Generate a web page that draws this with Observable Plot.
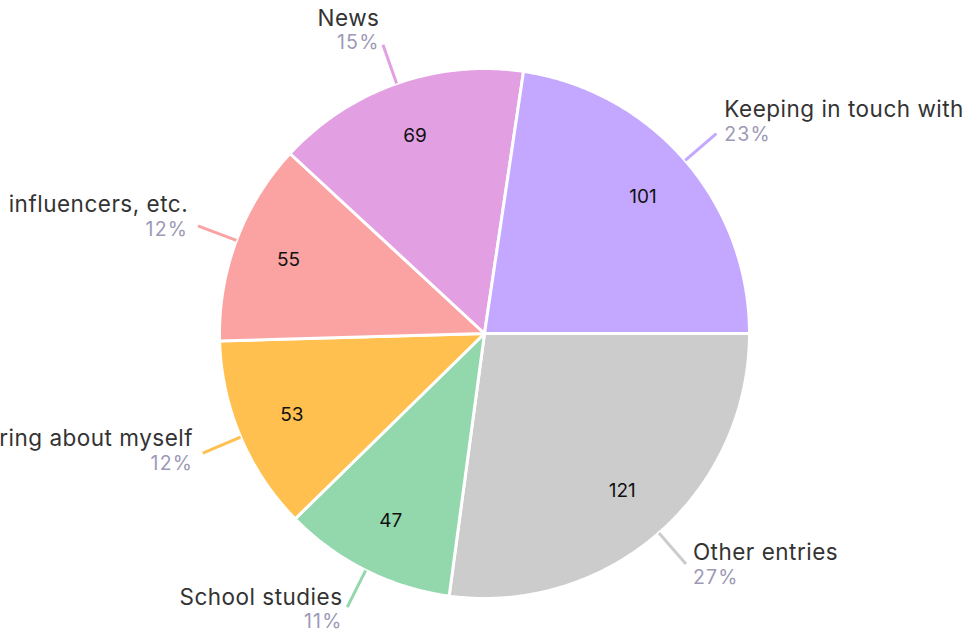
<!DOCTYPE html>
<html>
<head>
<meta charset="utf-8">
<script src="https://cdn.jsdelivr.net/npm/d3@7"></script>
<script src="https://cdn.jsdelivr.net/npm/@observablehq/plot@0.6"></script>
<style>
  html, body { margin: 0; padding: 0; background: #fff; }
  #chart { width: 964px; height: 631px; overflow: hidden; }
  svg { font-family: Inter, "Open Sans", sans-serif; }
  svg g[font-size="22.5"] { letter-spacing: 0.5px; }
  svg g[font-size="19.5"] { letter-spacing: 1.2px; }
</style>
</head>
<body>
<div id="chart"></div>
<script>
// ---- data ----
const categories = [
  "Other entries",
  "School studies",
  "Sharing about myself",
  "Following celebrities, influencers, etc.",
  "News",
  "Keeping in touch with friends"
];
const values = [121, 47, 53, 55, 69, 101];
const colors = ["#cccccc", "#93d8ac", "#ffc04f", "#fba3a3", "#e2a0e3", "#c4a8ff"];
const startAngleDeg = 90; // pie starts at 3 o'clock, clockwise

// ---- layout ----
const W = 964, H = 631, CX = 484, CY = 333, R = 265;

const total = d3.sum(values);
let acc = startAngleDeg * Math.PI / 180;
const slices = categories.map((c, i) => {
  const a0 = acc;
  const a1 = acc + values[i] / total * 2 * Math.PI;
  acc = a1;
  return {category: c, value: values[i], a0, a1, mid: (a0 + a1) / 2,
          pct: Math.round(values[i] / total * 100) + "%"};
});

// unit coords: x = sin(angle), y = cos(angle) (y up), angle clockwise from top
const px = a => Math.sin(a), py = a => Math.cos(a);

// polygon outline points for each slice
const polyPts = [];
for (const s of slices) {
  polyPts.push({category: s.category, x: 0, y: 0});
  const n = Math.max(2, Math.ceil((s.a1 - s.a0) / (Math.PI / 360)));
  for (let k = 0; k <= n; k++) {
    const a = s.a0 + (s.a1 - s.a0) * k / n;
    polyPts.push({category: s.category, x: px(a), y: py(a)});
  }
}

const leaderIn = 1.0, leaderOut = 1.155, valueR = 0.79;
const labels = slices.map(s => {
  const sx = px(s.mid), cy = py(s.mid);
  const x2 = leaderOut * sx, y2 = leaderOut * cy;
  // label block offset from leader end (pixels -> radius units)
  const offX = 10.5 * sx, offY = 1 - 9 * cy; // offY is downward in pixels
  return {
    ...s,
    x1: leaderIn * sx, y1: leaderIn * cy, x2, y2,
    lx: x2 + offX / R, ly: y2 - offY / R,
    vx: valueR * sx, vy: valueR * cy,
    right: sx >= 0
  };
});
const rightL = labels.filter(d => d.right), leftL = labels.filter(d => !d.right);

const nameColor = "#333333", pctColor = "#9d99b6";
const nameStyle = {fill: nameColor, fontSize: 22.5};
const pctStyle = {fill: pctColor, fontSize: 19.5};

const chart = Plot.plot({
  width: W, height: H,
  margin: 0,
  x: {domain: [-CX / R, (W - CX) / R], range: [0, W], axis: null},
  y: {domain: [(CY - H) / R, CY / R], range: [H, 0], axis: null},
  color: {domain: categories, range: colors},
  marks: [
    Plot.line(polyPts, {x: "x", y: "y", z: "category", fill: "category",
      stroke: "white", strokeWidth: 3, strokeLinejoin: "round", curve: "linear-closed"}),
    Plot.link(labels, {x1: "x1", y1: "y1", x2: "x2", y2: "y2", stroke: "category", strokeWidth: 3}),
    Plot.text(labels, {x: "vx", y: "vy", text: d => String(d.value), fill: "#111", fontSize: 19}),
    Plot.text(rightL, {x: "lx", y: "ly", text: "category", textAnchor: "start", lineAnchor: "bottom",
      dy: -11.5, ...nameStyle}),
    Plot.text(rightL, {x: "lx", y: "ly", text: "pct", textAnchor: "start", lineAnchor: "bottom",
      dy: 12, ...pctStyle}),
    Plot.text(leftL, {x: "lx", y: "ly", text: "category", textAnchor: "end", lineAnchor: "bottom",
      dy: -11.5, ...nameStyle}),
    Plot.text(leftL, {x: "lx", y: "ly", text: "pct", textAnchor: "end", lineAnchor: "bottom",
      dy: 12, ...pctStyle})
  ]
});
document.getElementById("chart").appendChild(chart);
</script>
</body>
</html>
